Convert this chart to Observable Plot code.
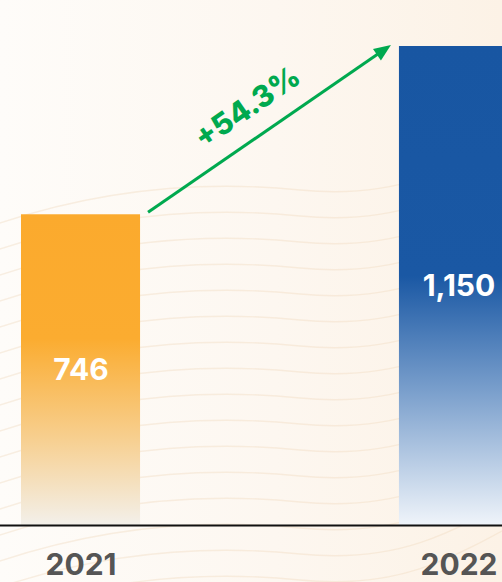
<!DOCTYPE html>
<html>
<head>
<meta charset="utf-8">
<script src="https://cdn.jsdelivr.net/npm/d3@7"></script>
<script src="https://cdn.jsdelivr.net/npm/@observablehq/plot@0.6"></script>
<style>
  html, body { margin: 0; padding: 0; width: 502px; height: 582px; overflow: hidden; }
  body { background: linear-gradient(90deg, #fefcf9 0%, #fdf7f0 55%, #fcf2e6 100%); font-family: Inter, "Open Sans", sans-serif; }
  #wrap { position: relative; width: 502px; height: 582px; overflow: hidden; }
  #bg, #chart svg { position: absolute; left: 0; top: 0; }
  #chart svg { background: transparent; overflow: visible; max-width: none !important; width: 520px !important; height: 582px !important; }
</style>
</head>
<body>
<div id="wrap">
  <svg id="bg" width="502" height="582"></svg>
  <div id="chart"></div>
</div>
<script>
// ---- data ----
const years = ["2021", "2022"];
const values = [746, 1150];
const valueLabels = ["746", "1,150"];
const growthLabel = "+54.3%";
const barGradients = ["url(#gradOrange)", "url(#gradBlue)"];

const data = years.map((y, i) => ({year: y, value: values[i], label: valueLabels[i], fill: barGradients[i]}));

// ---- decorative background ripples ----
const bg = d3.select("#bg");
for (let i = 0; i < 16; i++) {
  const y0 = 200 + i * 26;
  bg.append("path")
    .attr("d", `M -20 ${y0 + 30} C 90 ${y0 - 10}, 200 ${y0 - 20}, 300 ${y0 - 10} S 450 ${y0 - 30}, 540 ${y0 - 80}`)
    .attr("fill", "none")
    .attr("stroke", "#f1d9bd")
    .attr("stroke-opacity", 0.4)
    .attr("stroke-width", 1.4);
}

// ---- growth arrow mark (positions derived from scales) ----
function growthArrow(index, scales) {
  const x = scales.x, y = scales.y, bw = x.bandwidth ? x.bandwidth() : 0;
  const x0 = x(years[0]) + bw + 8, y0 = y(values[0]) - 2;
  const x1 = x(years[1]) - 8, y1 = y(values[1]) - 1;
  const dx = x1 - x0, dy = y1 - y0, len = Math.hypot(dx, dy);
  const ux = dx / len, uy = dy / len;
  const nx = uy, ny = -ux;
  const head = 17, hw = 7;
  const bx = x1 - ux * head, by = y1 - uy * head;
  const g = d3.create("svg:g");
  g.append("line")
    .attr("x1", x0).attr("y1", y0).attr("x2", bx + ux * 2).attr("y2", by + uy * 2)
    .attr("stroke", "#00a94f").attr("stroke-width", 3);
  g.append("path")
    .attr("d", `M${x1},${y1} L${bx + nx * hw},${by + ny * hw} L${bx - nx * hw},${by - ny * hw} Z`)
    .attr("fill", "#00a94f");
  const mx = (x0 + x1) / 2 - ux * 6, my = (y0 + y1) / 2 - uy * 6;
  const lx = mx + nx * 31, ly = my + ny * 31;
  const ang = Math.atan2(dy, dx) * 180 / Math.PI;
  g.append("text")
    .attr("transform", `translate(${lx},${ly}) rotate(${ang})`)
    .attr("text-anchor", "middle")
    .attr("dominant-baseline", "central")
    .attr("fill", "#00a94f")
    .attr("font-family", "Inter, 'Open Sans', sans-serif")
    .attr("font-weight", 800)
    .attr("font-size", 30)
    .text(growthLabel);
  return g.node();
}

const chart = Plot.plot({
  width: 520,
  height: 582,
  marginLeft: 0,
  marginRight: 0,
  marginTop: 46,
  marginBottom: 57,
  style: {background: "transparent", fontFamily: "Inter, 'Open Sans', sans-serif", maxWidth: "none"},
  x: {type: "band", domain: years, range: [21, 518], paddingInner: 0.685, paddingOuter: 0, round: false, axis: null, label: null},
  y: {domain: [0, 1150], range: [525, 46], axis: null},
  color: {type: "identity"},
  marks: [
    Plot.barY(data, {x: "year", y: "value", fill: "fill"}),
    Plot.text(data, {x: "year", y: d => d.value / 2, text: "label", fill: "white",
      fontSize: 30, fontWeight: 700, textAnchor: "middle"}),
    Plot.ruleY([0], {stroke: "#111", strokeWidth: 2}),
    Plot.axisX({tickSize: 0, tickPadding: 28, label: null, fontSize: 30, fontWeight: 700, fill: "#555"}),
    growthArrow
  ]
});

const svg = d3.select(chart);
const defs = svg.insert("defs", ":first-child");
const go = defs.append("linearGradient").attr("id", "gradOrange").attr("x1", 0).attr("y1", 0).attr("x2", 0).attr("y2", 1);
go.append("stop").attr("offset", "0").attr("stop-color", "#fbaa2d");
go.append("stop").attr("offset", "0.4").attr("stop-color", "#fbac30");
go.append("stop").attr("offset", "0.72").attr("stop-color", "#f7cf8f");
go.append("stop").attr("offset", "1").attr("stop-color", "#f3f0ea");
const gb = defs.append("linearGradient").attr("id", "gradBlue").attr("x1", 0).attr("y1", 0).attr("x2", 0).attr("y2", 1);
gb.append("stop").attr("offset", "0").attr("stop-color", "#1856a2");
gb.append("stop").attr("offset", "0.48").attr("stop-color", "#1a58a4");
gb.append("stop").attr("offset", "0.72").attr("stop-color", "#7a9fcc");
gb.append("stop").attr("offset", "1").attr("stop-color", "#eff4fa");

svg.selectAll('[aria-label="x-axis tick label"] text, g[aria-label="x-axis tick label"]')
  .attr("font-size", 30).attr("font-weight", 700).attr("fill", "#555");

document.getElementById("chart").appendChild(chart);
</script>
</body>
</html>
